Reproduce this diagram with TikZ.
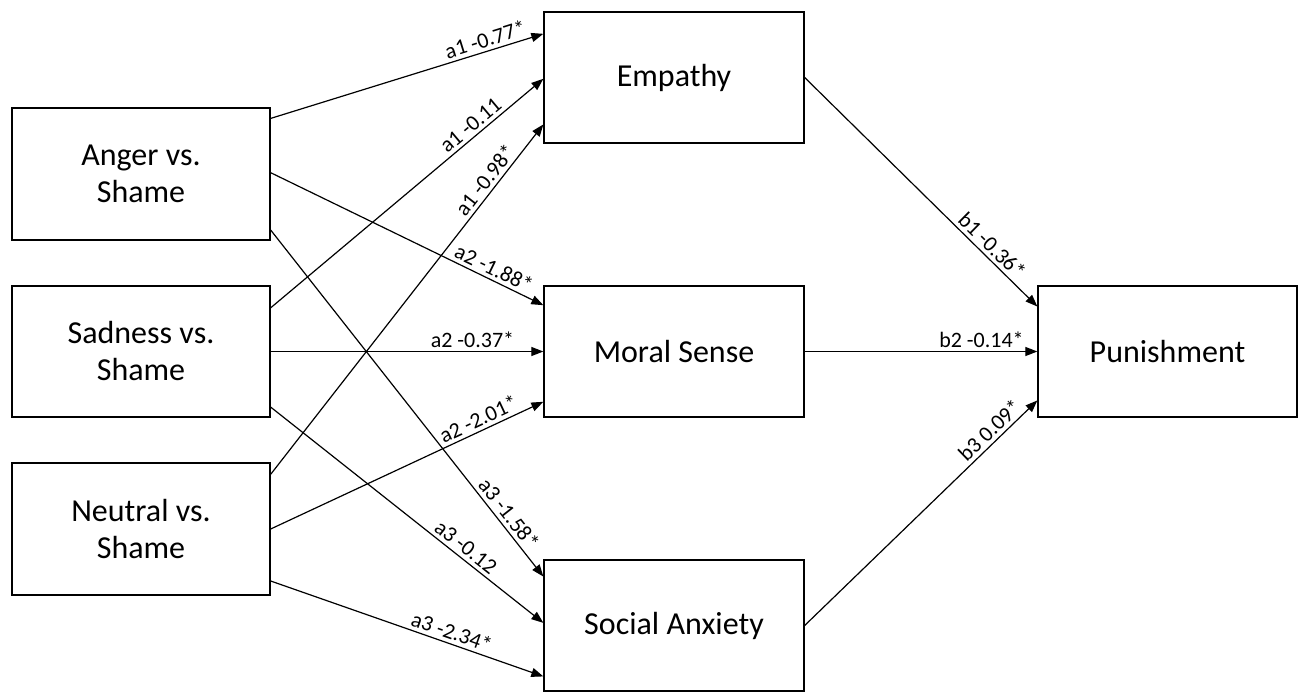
\documentclass[tikz,border=0pt]{standalone}
\usepackage{fontspec}
\setmainfont{Carlito}
\usetikzlibrary{arrows.meta,calc}
\begin{document}
\begin{tikzpicture}[x=1pt,y=-1pt,
  box/.style={draw=black, line width=1.3pt, rectangle, minimum width=258pt, minimum height=131pt, align=center, font=\fontsize{32}{37}\selectfont, inner sep=0pt},
  conn/.style={line width=1.2pt, -{Triangle[length=12pt,width=9pt]}},
  lbl/.style={font=\fontsize{22}{26}\selectfont, sloped, above, inner sep=3.5pt}]
\useasboundingbox (0,0) rectangle (1301,691);

% predictors
\node[box, minimum height=132pt] (anger)   at (141,174)   {Anger vs.\\Shame};
\node[box]                       (sadness) at (141,351.5) {Sadness vs.\\Shame};
\node[box, minimum height=132pt] (neutral) at (141,529)   {Neutral vs.\\Shame};

% mediators
\node[box, minimum width=260pt] (empathy) at (674,77.5)  {Empathy};
\node[box, minimum width=260pt] (moral)   at (674,351.5) {Moral Sense};
\node[box, minimum width=260pt] (social)  at (674,625.5) {Social Anxiety};

% outcome
\node[box, minimum width=259pt] (punish) at (1167.5,351.5) {Punishment};

% a1 paths
\draw[conn] ($(anger.north east)!0.083!(anger.south east)$) -- ($(empathy.north west)!0.17!(empathy.south west)$)
  node[lbl, pos=0.80] {a1 -0.77*};
\draw[conn] ($(sadness.north east)!0.17!(sadness.south east)$) -- ($(empathy.north west)!0.51!(empathy.south west)$)
  node[lbl, pos=0.76] {a1 -0.11};
\draw[conn] ($(neutral.north east)!0.09!(neutral.south east)$) -- ($(empathy.north west)!0.855!(empathy.south west)$)
  node[lbl, pos=0.82] {a1 -0.98*};

% a2 paths
\draw[conn] ($(anger.north east)!0.49!(anger.south east)$) -- ($(moral.north west)!0.15!(moral.south west)$)
  node[lbl, pos=0.80] {a2 -1.88*};
\draw[conn] (sadness.east) -- (moral.west)
  node[lbl, pos=0.74] {a2 -0.37*};
\draw[conn] ($(neutral.north east)!0.5!(neutral.south east)$) -- ($(moral.north west)!0.88!(moral.south west)$)
  node[lbl, pos=0.78] {a2 -2.01*};

% a3 paths
\draw[conn] ($(anger.north east)!0.92!(anger.south east)$) -- ($(social.north west)!0.13!(social.south west)$)
  node[lbl, pos=0.84] {a3 -1.58*};
\draw[conn] ($(sadness.north east)!0.92!(sadness.south east)$) -- ($(social.north west)!0.48!(social.south west)$)
  node[lbl, pos=0.69] {a3 -0.12};
\draw[conn] ($(neutral.north east)!0.89!(neutral.south east)$) -- ($(social.north west)!0.885!(social.south west)$)
  node[lbl, pos=0.65] {a3 -2.34*};

% b paths
\draw[conn] (empathy.east) -- ($(punish.north west)!0.16!(punish.south west)$)
  node[lbl, pos=0.77] {b1 -0.36*};
\draw[conn] (moral.east) -- (punish.west)
  node[lbl, pos=0.76] {b2 -0.14*};
\draw[conn] (social.east) -- ($(punish.north west)!0.87!(punish.south west)$)
  node[lbl, pos=0.83] {b3 0.09*};
\end{tikzpicture}
\end{document}
